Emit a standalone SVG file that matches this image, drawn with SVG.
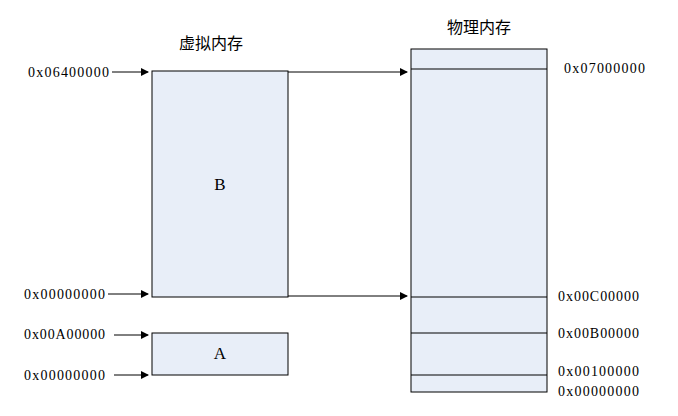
<svg xmlns="http://www.w3.org/2000/svg" width="678" height="416" viewBox="0 0 678 416">
<style>
.box{fill:#E8EEF8;stroke:#000;stroke-width:1}
.ln{stroke:#000;stroke-width:1}
.t{font-family:"Liberation Serif",serif;font-size:14px;fill:#000}
.c{font-family:"Noto Sans CJK SC",sans-serif;font-size:16px;fill:#000}
.l{font-family:"Liberation Serif",serif;font-size:17px;fill:#000}
</style>
<defs><marker id="ah" markerWidth="8" markerHeight="8" refX="7" refY="4" orient="auto" markerUnits="userSpaceOnUse"><path d="M0,0 L8,4 L0,8 z" fill="#000"/></marker></defs>
<rect width="678" height="416" fill="#fff"/>
<g id="virtual-title"><text class="c" x="211" y="49" text-anchor="middle">虚拟内存</text></g>
<g id="physical-title"><text class="c" x="479" y="33" text-anchor="middle">物理内存</text></g>
<g id="B"><rect class="box" x="152" y="71" width="136" height="226"/><text class="l" x="220" y="190" text-anchor="middle">B</text></g>
<g id="A"><rect class="box" x="152" y="333" width="136" height="42"/><text class="l" x="220" y="359" text-anchor="middle">A</text></g>
<g id="physical"><rect class="box" x="411" y="49" width="136" height="343"/>
<line class="ln" x1="411" y1="69" x2="547" y2="69"/><line class="ln" x1="411" y1="297" x2="547" y2="297"/><line class="ln" x1="411" y1="333" x2="547" y2="333"/><line class="ln" x1="411" y1="375" x2="547" y2="375"/></g>
<g id="labels">
<text class="t" x="28" y="77" textLength="81">0x06400000</text>
<text class="t" x="24" y="299" textLength="81">0x00000000</text>
<text class="t" x="24" y="339" textLength="81">0x00A00000</text>
<text class="t" x="24" y="380" textLength="81">0x00000000</text>
<text class="t" x="564" y="73" textLength="81">0x07000000</text>
<text class="t" x="558" y="301" textLength="81">0x00C00000</text>
<text class="t" x="558" y="338" textLength="81">0x00B00000</text>
<text class="t" x="558" y="376" textLength="81">0x00100000</text>
<text class="t" x="558" y="396" textLength="81">0x00000000</text>
</g>
<g id="connectors">
<line class="ln" x1="112" y1="72" x2="148" y2="72" marker-end="url(#ah)"/>
<line class="ln" x1="108" y1="294" x2="148" y2="294" marker-end="url(#ah)"/>
<line class="ln" x1="114" y1="335" x2="148" y2="335" marker-end="url(#ah)"/>
<line class="ln" x1="114" y1="375" x2="148" y2="375" marker-end="url(#ah)"/>
<line class="ln" x1="288" y1="72" x2="407" y2="72" marker-end="url(#ah)"/>
<line class="ln" x1="288" y1="296" x2="407" y2="296" marker-end="url(#ah)"/>
</g>
</svg>
